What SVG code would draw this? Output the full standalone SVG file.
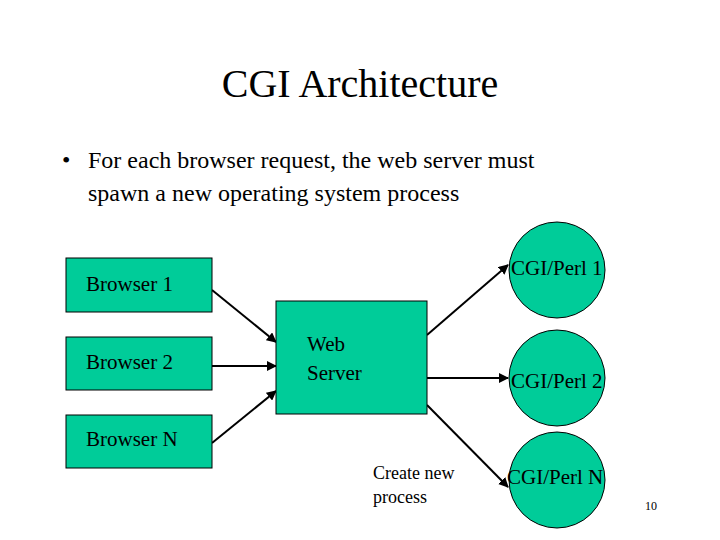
<svg xmlns="http://www.w3.org/2000/svg" width="720" height="540" viewBox="0 0 720 540">
<style>
text{font-family:"Liberation Serif","Times New Roman",serif;fill:#000}
.n{fill:#00CC99;stroke:#000;stroke-width:1}
.c line{stroke:#000;stroke-width:2;marker-end:url(#a)}
.l{font-size:21px}
</style>
<defs><marker id="a" viewBox="0 0 10 10" refX="9" refY="5" markerWidth="5" markerHeight="5" orient="auto"><path d="M0,0L10,5L0,10z" fill="#000"/></marker></defs>
<rect width="720" height="540" fill="#fff"/>
<text x="360" y="97" font-size="40" text-anchor="middle">CGI Architecture</text>
<text x="62" y="168" font-size="24">•</text>
<text x="88" y="168" font-size="24">For each browser request, the web server must</text>
<text x="88" y="201" font-size="24">spawn a new operating system process</text>
<g class="c">
<line x1="212" y1="290" x2="276" y2="342"/>
<line x1="212" y1="366" x2="276" y2="366"/>
<line x1="212" y1="443" x2="276" y2="391"/>
<line x1="427" y1="335" x2="508" y2="265"/>
<line x1="427" y1="378" x2="508" y2="378"/>
<line x1="427" y1="405" x2="508" y2="487"/>
</g>
<g id="b1"><rect class="n" x="66" y="258" width="146" height="54"/><text class="l" x="86" y="291">Browser 1</text></g>
<g id="b2"><rect class="n" x="66" y="337" width="146" height="53"/><text class="l" x="86" y="369">Browser 2</text></g>
<g id="bn"><rect class="n" x="66" y="415" width="146" height="53"/><text class="l" x="86" y="446">Browser N</text></g>
<g id="ws"><rect class="n" x="276" y="301" width="151" height="113"/><text class="l" x="307" y="351">Web</text><text class="l" x="307" y="380">Server</text></g>
<g id="p1"><circle class="n" cx="557" cy="270" r="48"/><text class="l" x="511" y="275" font-size="18">CGI/Perl 1</text></g>
<g id="p2"><circle class="n" cx="557" cy="378" r="48"/><text class="l" x="511" y="388" font-size="18">CGI/Perl 2</text></g>
<g id="pn"><circle class="n" cx="557" cy="480" r="48"/><text class="l" x="507" y="484" font-size="18">CGI/Perl N</text></g>
<text x="373" y="479" font-size="18">Create new</text>
<text x="373" y="503" font-size="18">process</text>
<text x="645" y="510" font-size="12">10</text>
</svg>
